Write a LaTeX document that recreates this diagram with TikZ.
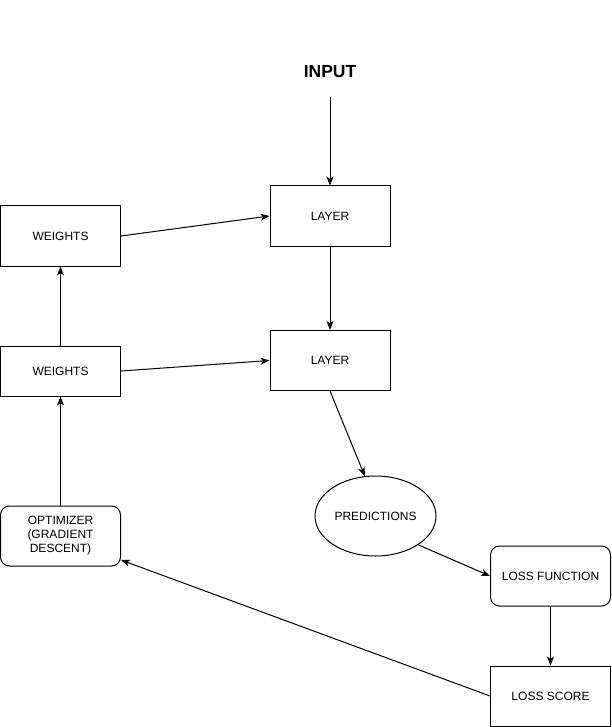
\documentclass[tikz,border=0pt]{standalone}
\usepackage{fontspec}
\setmainfont{Liberation Sans}
\usetikzlibrary{arrows.meta,shapes.geometric,calc}
\begin{document}
\begin{tikzpicture}[x=1pt,y=-1pt,
  line width=1pt,
  every node/.style={font=\fontsize{12}{14}\selectfont, align=center, inner sep=0pt},
  box/.style={draw, minimum width=120pt, minimum height=60pt},
  rbox/.style={box, rounded corners=9pt},
  oval/.style={draw, ellipse, minimum width=121pt, minimum height=80pt},
  arr/.style={-{Stealth[length=9pt,width=7pt,inset=2.5pt]}}
]
\useasboundingbox (0,0) rectangle (611,727);
\node[font=\fontsize{17.5}{20}\selectfont\bfseries, minimum height=50pt] (in) at (330,72) {INPUT};
\node[box] (l1) at (330,216) {LAYER};
\node[box] (l2) at (330,360.5) {LAYER};
\node[box] (w1) at (60.5,236) {WEIGHTS};
\node[box, minimum height=50pt] (w2) at (60.5,371) {WEIGHTS};
\node[rbox] (opt) at (60.5,536) {OPTIMIZER\\(GRADIENT\\DESCENT)};
\node[oval] (pred) at (375.5,516) {PREDICTIONS};
\node[rbox] (lf) at (550.5,576) {LOSS FUNCTION};
\node[box] (ls) at (550.5,696) {LOSS SCORE};

\draw[arr] (in.south) -- (l1.north);
\draw[arr] (w1.east) -- (l1.west);
\draw[arr] (l1.south) -- (l2.north);
\draw[arr] (w2.east) -- (l2.west);
\draw[arr] (w2.north) -- (w1.south);
\draw[arr] (opt.north) -- (w2.south);
\draw[arr] (l2.south) -- (pred.105);
\draw[arr] (pred.-34) -- (lf.west);
\draw[arr] (lf.south) -- (ls.north);
\draw[arr] (ls.west) -- ([yshift=-24pt]opt.east);
\end{tikzpicture}
\end{document}
